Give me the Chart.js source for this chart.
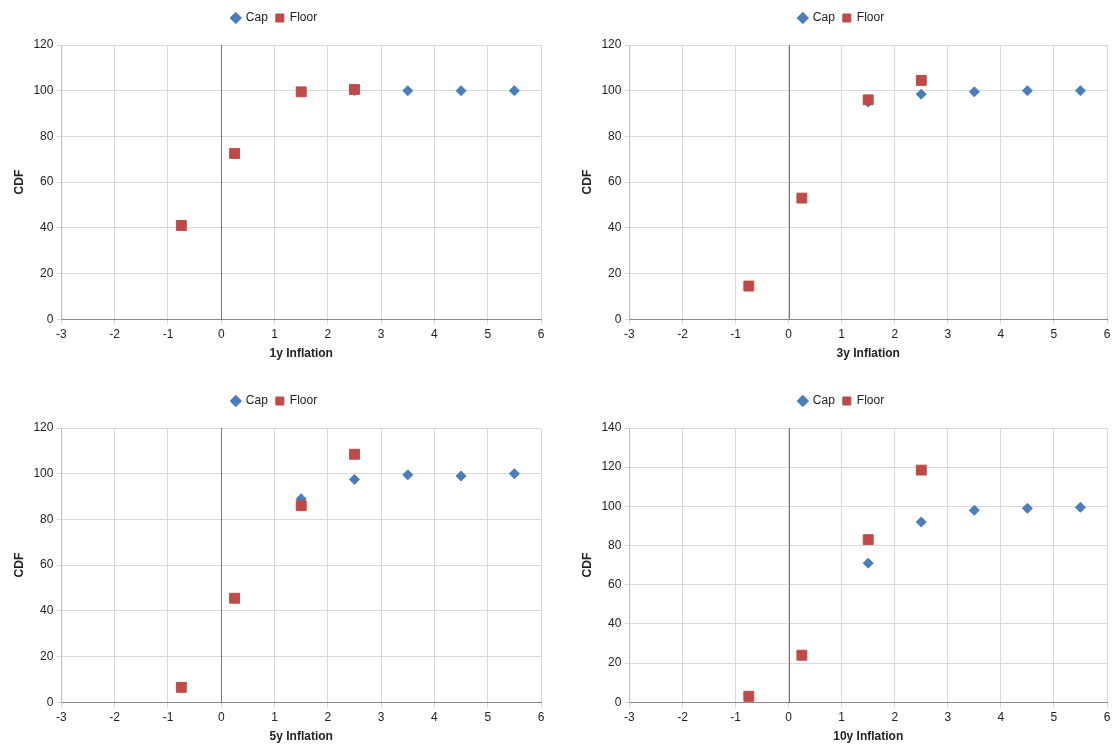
<!DOCTYPE html>
<html><head><meta charset="utf-8">
<script src="https://cdn.jsdelivr.net/npm/chart.js@4"></script>
<style>
body{margin:0;background:#fff;width:1112px;height:749px;overflow:hidden;position:relative}
.c{position:absolute;width:556px;height:370px}
.r{left:568px;width:554px}
</style></head><body>
<div class="c" style="left:0;top:0"><canvas id="c0"></canvas></div>
<div class="c r" style="top:0"><canvas id="c1"></canvas></div>
<div class="c" style="left:0;top:383px"><canvas id="c2"></canvas></div>
<div class="c r" style="top:383px"><canvas id="c3"></canvas></div>
<script>
const capX = [1.5, 2.5, 3.5, 4.5, 5.5];
const floorX = [-0.75, 0.25, 1.5, 2.5];
const titles = ["1y Inflation", "3y Inflation", "5y Inflation", "10y Inflation"];
const cap1y = [99.5, 100, 100, 100, 100];
const floor1y = [41, 72.5, 99.5, 100.5];
const cap3y = [95, 98.5, 99.5, 100, 100];
const floor3y = [14.5, 53, 96, 104.5];
const cap5y = [89, 97.5, 99.5, 99, 100];
const floor5y = [6.5, 45.5, 86, 108.5];
const cap10y = [71, 92, 98, 99, 99.5];
const floor10y = [3, 24, 83, 118.5];
const yMax = [120, 120, 120, 140];
const caps = [cap1y, cap3y, cap5y, cap10y];
const floors = [floor1y, floor3y, floor5y, floor10y];
Chart.defaults.font.family = "'Liberation Sans', Arial, sans-serif";
Chart.defaults.font.size = 12;
Chart.defaults.color = '#222';
const legendGap = { id: 'legendGap', beforeInit(ch) {
  const lg = ch.legend; const f = lg.fit;
  lg.fit = function () { f.call(lg); this.height += 11; };
}};
const zeroAxis = { id: 'zeroAxis', beforeDatasetsDraw(ch) {
  const x = ch.scales.x.getPixelForValue(0), a = ch.chartArea, c = ch.ctx;
  c.save(); c.strokeStyle = '#777'; c.lineWidth = 1;
  c.beginPath(); c.moveTo(Math.round(x) + 0.5, a.top); c.lineTo(Math.round(x) + 0.5, a.bottom); c.stroke(); c.restore();
}};
for (let i = 0; i < 4; i++) {
  new Chart(document.getElementById('c' + i), {
    type: 'scatter',
    data: { datasets: [
      { label: 'Cap', data: capX.map((x, j) => ({x, y: caps[i][j]})), pointStyle: 'rectRot', radius: 5, backgroundColor: '#4a7ebb', borderColor: '#4a7ebb', order: 2 },
      { label: 'Floor', data: floorX.map((x, j) => ({x, y: floors[i][j]})), pointStyle: 'rect', radius: 7, backgroundColor: '#be4b48', borderColor: '#be4b48', order: 1 }
    ]},
    options: {
      animation: false, responsive: true, maintainAspectRatio: false,
      layout: { padding: { left: 8, right: 15, top: 4, bottom: 7 } },
      plugins: { legend: { labels: { usePointStyle: true, boxWidth: 8, boxHeight: 8, padding: 8, font: { size: 12 },
          sort: (a, b) => a.datasetIndex - b.datasetIndex } },
        tooltip: { enabled: false } },
      scales: {
        x: { type: 'linear', min: -3, max: 6, ticks: { stepSize: 1 },
          title: { display: true, text: titles[i], font: { weight: 'bold', size: 12 }, padding: 2 },
          grid: { color: '#d9d9d9', tickLength: 5 }, border: { color: '#888' } },
        y: { min: 0, max: yMax[i], ticks: { stepSize: 20 },
          title: { display: true, text: 'CDF', font: { weight: 'bold', size: 12 } },
          grid: { color: '#d9d9d9', tickLength: 5 }, border: { color: '#bbb' } }
      }
    },
    plugins: [zeroAxis, legendGap]
  });
}
</script></body></html>
